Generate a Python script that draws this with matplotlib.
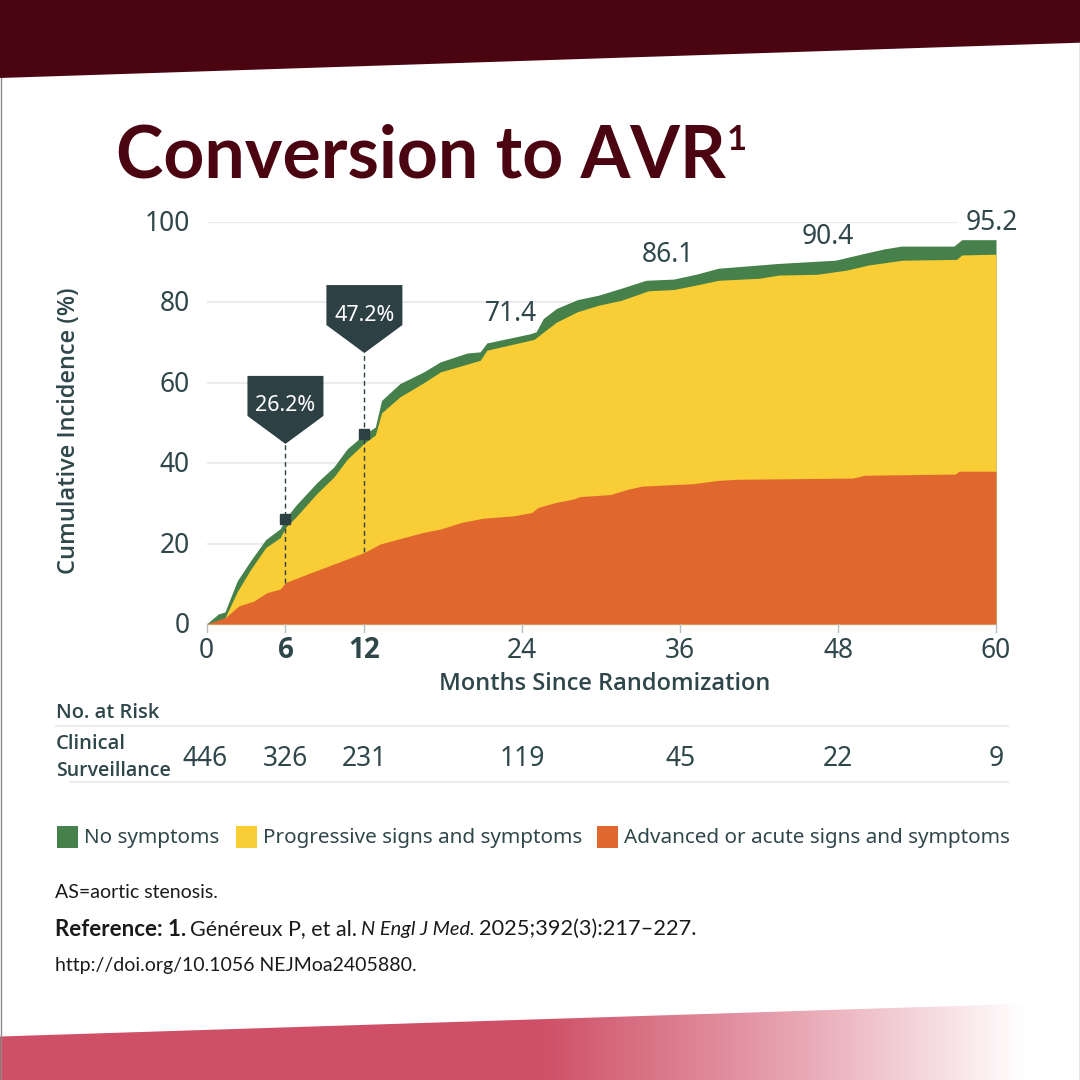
import matplotlib
matplotlib.use('Agg')
import matplotlib.pyplot as plt
from matplotlib.colors import LinearSegmentedColormap
from matplotlib.patches import Polygon, Rectangle
import numpy as np

# values
total_months = [0, 0.9, 1.4, 2.33, 3.34, 4.5, 5.6, 6, 6.76, 8.4, 9.66, 10.7, 12, 12.83, 13.3, 14.7, 16.5, 17.77,
                19.8, 20.8, 21.3, 24.6, 25.05, 25.6, 26.6, 28.2, 29.8, 31.5, 33.4, 35.5, 37.2, 38.9, 43.5,
                47.8, 50, 51.5, 52.8, 56.8, 57.4, 60]
total_pct = [0, 2.5, 3, 10.7, 15.7, 21, 23.7, 26.2, 29.4, 35.2, 39, 43.6, 47.2, 49, 55.6, 59.8, 62.7, 65.2,
             67.4, 67.7, 69.9, 72.2, 72.7, 76, 78.5, 80.7, 81.8, 83.5, 85.5, 85.8, 87, 88.5, 89.7,
             90.5, 92.2, 93.3, 94, 94, 95.6, 95.6]
progressive_months = [0, 0.9, 1.4, 2.33, 3.34, 4.5, 5.6, 6, 6.76, 8.4, 9.66, 10.7, 12, 12.83, 13.3, 14.7, 16.5,
                      17.77, 20.8, 21.3, 24.9, 25.6, 26.6, 28.2, 29.8, 31.5, 33.6, 35.5, 37.2, 38.9, 42, 43.5,
                      46.4, 48.6, 50.3, 52.9, 57, 57.4, 60]
progressive_pct = [0, 0.5, 1.5, 8, 13.5, 19, 21.5, 24, 26.5, 32.5, 36.5, 41, 45, 47, 52.5, 56.5, 60,
                   62.7, 65.6, 68.1, 70.8, 72.6, 75.1, 77.7, 79.3, 80.5, 82.9, 83.2, 84.3, 85.5, 86, 86.8,
                   87, 88, 89.3, 90.5, 90.7, 91.8, 92]
advanced_months = [0, 1.44, 2.45, 3.6, 4.6, 5.6, 6, 7.65, 9.67, 12, 13.2, 15, 16.5, 17.77, 19.4, 21, 23.3, 24.7,
                   25.2, 26.5, 27.9, 28.4, 30.7, 32, 33.1, 37, 38.8, 40.3, 49.1, 50, 56.9, 57.2, 60]
advanced_pct = [0, 1.6, 4.5, 5.7, 7.8, 8.7, 10.3, 12.4, 14.9, 17.8, 19.9, 21.5, 22.8, 23.6, 25.3, 26.3, 26.9, 27.7,
                29, 30.2, 31.1, 31.7, 32.2, 33.5, 34.3, 34.9, 35.7, 36, 36.3, 37, 37.3, 38, 38]

x_ticks = [0, 6, 12, 24, 36, 48, 60]
y_ticks = [0, 20, 40, 60, 80, 100]
at_risk = [446, 326, 231, 119, 45, 22, 9]
point_labels = ['71.4', '86.1', '90.4', '95.2']
point_months = [23.1, 35.1, 47.2, 59.7]
point_pct = [77.6, 92.3, 96.8, 100.3]
callout_months = [6, 12]
callout_pct = [26.2, 47.2]
callout_floor = [10.3, 17.8]
callout_tip = [44.8, 67.4]
callout_text = ['26.2%', '47.2%']

GREEN = '#46804A'
YELLOW = '#F8CD36'
ORANGE = '#E0682E'
MAROON = '#4A0511'
INK = '#2F464B'
SLATE = '#2D4145'
LINE = '#ECECEC'
FONT = 'Noto Sans'
HEAVY = 'Open Sans'
FOOT = 'Lato'

fig = plt.figure(figsize=(10.8, 10.8), dpi=100)


def place(left, top, right, bottom):
    return [left / 1080, 1 - bottom / 1080, (right - left) / 1080, (bottom - top) / 1080]


ax = fig.add_axes(place(206.5, 222, 996, 624))
page = fig.add_axes([0, 0, 1, 1], zorder=5)
page.patch.set_alpha(0)
page.set_xlim(0, 1080)
page.set_ylim(1080, 0)


def month_px(month):
    return 206.5 + month * (996 - 206.5) / 60


# Chart
ax.fill_between(total_months, total_pct, color=GREEN, lw=0, zorder=2)
ax.fill_between(progressive_months, progressive_pct, color=YELLOW, lw=0, zorder=3)
ax.fill_between(advanced_months, advanced_pct, color=ORANGE, lw=0, zorder=4)
ax.set_xlim(0, 60)
ax.set_ylim(0, 100)
ax.set_xticks(x_ticks)
ax.set_yticks(y_ticks)
ax.set_xticklabels([])
ax.set_yticklabels([])
ax.tick_params(left=False, bottom=False)
for side in ['top', 'right', 'left']:
    ax.spines[side].set_visible(False)
ax.spines['bottom'].set_color('#B9BFC1')
ax.spines['bottom'].set_linewidth(1)
for y in y_ticks[1:-1]:
    ax.axhline(y, color=LINE, lw=1.6, zorder=1)
ax.plot([0, 57], [100, 100], color=LINE, lw=1.6, zorder=1)
ax.vlines(callout_months, callout_floor, callout_tip, color=SLATE, lw=1, linestyles=(0, (3.5, 2.5)), zorder=6)
ax.plot(callout_months, callout_pct, 's', color=SLATE, ms=7.5, zorder=7, clip_on=False)

for y in y_ticks:
    page.text(190, 626 - y * 4.02, str(y), ha='right', va='center', fontsize=19, family=FONT, color=INK)
for month, n in zip(x_ticks, at_risk):
    bold = month in (6, 12)
    page.text(month_px(month), 651, str(month), ha='center', va='center', fontsize=20 if bold else 19,
              family=HEAVY if bold else FONT, color=INK, weight='bold' if bold else 'normal')
    page.plot([month_px(month)] * 2, [624, 632], color='#B9BFC1', lw=1)
    page.text(month_px(month) - (1 if month == 0 else 0), 759, str(n), ha='center', va='center', fontsize=19,
              family=FONT, color=INK)
for month, y, label in zip(point_months, point_pct, point_labels):
    page.text(month_px(month), 626 - y * 4.02, label, ha='center', va='center', fontsize=19, family=FONT, color=INK)

# Callouts
for month, tip, label in zip(callout_months, callout_tip, callout_text):
    cx = month_px(month)
    ty = 624 - tip * 4.02
    page.add_patch(Polygon([(cx - 38, ty - 68), (cx + 38, ty - 68), (cx + 38, ty - 28), (cx, ty), (cx - 38, ty - 28)],
                           facecolor=SLATE, edgecolor='none'))
    page.text(cx, ty - 38, label, ha='center', va='center', fontsize=15.5, family=FONT, color='white')

# Axis titles
page.text(69, 431, 'Cumulative Incidence (%)', rotation=90, ha='center', va='center', fontsize=17, family=HEAVY,
          weight='semibold', color=INK)
page.text(605, 684, 'Months Since Randomization', ha='center', va='center', fontsize=17, family=HEAVY,
          weight='semibold', color=INK)

# No. at risk table
page.text(56, 713, 'No. at Risk', ha='left', va='center', fontsize=14.5, family=HEAVY, weight='semibold', color=INK)
page.text(56, 744, 'Clinical', ha='left', va='center', fontsize=14.5, family=HEAVY, weight='semibold', color=INK)
page.text(56, 771, 'Surveillance', ha='left', va='center', fontsize=14, family=HEAVY, weight='semibold', color=INK)
page.plot([56, 1008], [726, 726], color=LINE, lw=1.6)
page.plot([71, 1008], [782, 782], color=LINE, lw=1.6)

# Legend
legend_left = [57, 236, 597]
legend_labels = ['No symptoms', 'Progressive signs and symptoms', 'Advanced or acute signs and symptoms']
legend_colors = [GREEN, YELLOW, ORANGE]
for left, label, color in zip(legend_left, legend_labels, legend_colors):
    page.add_patch(Rectangle((left, 826), 21, 22, facecolor=color, edgecolor='none'))
    page.text(left + 27, 838, label, ha='left', va='center', fontsize=14.9, family=FONT, color=INK)

# Title
title = page.text(116, 177, 'Conversion to AVR', ha='left', va='baseline', fontsize=51.5, family='Lato', weight='bold',
                  color=MAROON)
title_end = title.get_window_extent(fig.canvas.get_renderer()).x1
page.text(title_end + 1, 150, '1', ha='left', va='baseline', fontsize=25, family='Lato', weight='bold', color=MAROON)


# Footer runs
def put_runs(x, y, runs):
    for text, weight, style, size in runs:
        t = page.text(x, y, text, ha='left', va='center', fontsize=size, family=FOOT, weight=weight, style=style,
                      color='#1A1A1A')
        box = t.get_window_extent(fig.canvas.get_renderer())
        x += box.width + 4


put_runs(55, 893, [('AS=aortic stenosis.', 'normal', 'normal', 14)])
put_runs(55, 929, [('Reference: 1.', 'bold', 'normal', 16), ('Généreux P, et al.', 'normal', 'normal', 15.5),
                   ('N Engl J Med.', 'normal', 'italic', 14.4), ('2025;392(3):217\u2013227.', 'normal', 'normal', 15.7)])
put_runs(55, 965, [('http://doi.org/10.1056 NEJMoa2405880.', 'normal', 'normal', 14)])

# Page bands
page.add_patch(Polygon([(0, 0), (1080, 0), (1080, 42.7), (0, 78)], facecolor=MAROON, edgecolor='none'))
fade = LinearSegmentedColormap.from_list('fade', [(0, '#CE4F66'), (0.5, '#CE4F66'), (0.74, '#E8A6B3'),
                                                  (0.95, '#FFFFFF'), (1, '#FFFFFF')])
band = page.imshow(np.linspace(0, 1, 1080)[None, :], extent=(0, 1080, 1080, 1000), aspect='auto', cmap=fade,
                   vmin=0, vmax=1)
edge = Polygon([(0, 1036.5), (1080, 1002), (1080, 1080), (0, 1080)], transform=page.transData, facecolor='none',
               edgecolor='none')
page.add_patch(edge)
band.set_clip_path(edge)
page.plot([0.5, 0.5], [78, 1080], color='#8A8A8A', lw=1)
page.plot([1079.5, 1079.5], [42, 1080], color='#8A8A8A', lw=1)

page.set_xlim(0, 1080)
page.set_ylim(1080, 0)
page.axis('off')

fig.savefig('out.png', dpi=100)
